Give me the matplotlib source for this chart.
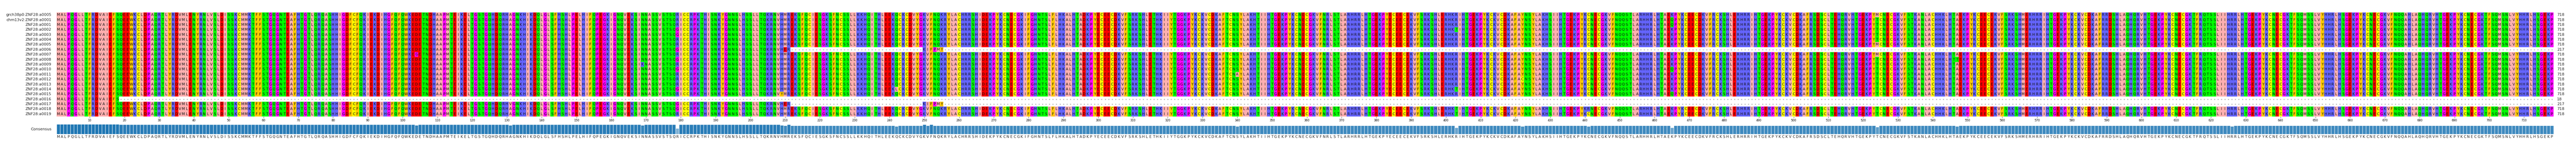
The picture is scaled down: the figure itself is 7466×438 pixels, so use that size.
import matplotlib
matplotlib.use("Agg")
import matplotlib.pyplot as plt
import numpy as np
from collections import Counter

names = ["grch38p0:ZNF28:a0005", "chm13v2:ZNF28:a0001"] + ["ZNF28:a%04d" % i for i in range(1, 20)]

consensus_segments = [
    "MALPQGLLTFRDVAIEFSQEEWKCLDPAQRTLYRDVMLENYRNLVSLDISSKCMMKTFFSTGQGNTEAFHTG",
    "TLQRQASHHIGDFCFQKIEKDIHGFQFQWKEDETNDHAAPMTEIKELTGSTGQHDQRHAGNKHIKDQLGLS",
    "FHSHLPELHIFQPEGKIGNQVEKSINNASSVSTSQRICCRPKTHISNKYGNNSLHSSLLTQKRNVHMREKSF",
    "QCIESGKSFNCSSLLKKHQITHLEEKQCKCDVYGKVFNQKRYLACHRRSHIDEKPYKCNECGKIFGHNTSL",
    "FLHKALHTADKPYECEECDKVFSRKSHLETHKIIYTGGKPYKCKVCDKAFTCNSYLAKHTIIHTGEKPYKCN",
    "ECGKVFNRLSTLARHRRLHTGEKPYECEECEKVFSRKSHLERHKRIHTGEKPYKCKVCDKAFAYNSYLAKH",
    "SIIHTGEKPYKCNECGKVFNQQSTLARHHRLHTAEKPYKCEECDKVFRCKSHLERHRRIHTGEKPYKCKVCD",
    "KAFRSDSCLTEHQRVHTGEKPYTCNECGKVFSTKANLACHHKLHTAEKPYKCEECEKVFSRKSHMERHRRI",
    "HTGEKPYKCKVCDKAFRRDSHLAQHQRVHTGEKPYKCNECGKTFRQTSSLIIHRRLHTGEKPYKCNECGKTF",
    "SQMSSLVYHHRLHSGEKPYKCNECGKVFNQQAHLAQHQRVHTGEKPYKCNECGKTFSQMSNLVYHHRLHSGEKP",
]

# (row, column 1-based, residue)
mutations = [
    (8, 104, "G"), (18, 131, "V"), (10, 169, "K"),
    (3, 179, "G"), (4, 179, "G"), (7, 179, "G"), (9, 179, "G"), (11, 179, "G"),
    (15, 179, "G"), (18, 179, "G"), (19, 179, "G"),
    (16, 209, "Y"), (7, 210, "E"), (18, 210, "E"),
    (15, 242, "L"), (12, 340, "A"),
    (3, 403, "T"), (15, 403, "T"), (19, 403, "T"), (20, 403, "T"), (13, 422, "C"),
    (19, 441, "R"), (1, 465, "Q"), (2, 465, "Q"), (11, 465, "Q"), (16, 465, "Q"),
    (0, 524, "M"), (6, 524, "M"), (8, 524, "M"), (9, 547, "T"), (14, 626, "H"),
]

# rows: (row, kept ranges [start, end] 1-based)
short_rows = {17: [(1, 18)], 7: [(1, 211), (250, 255)], 18: [(1, 211), (250, 255)]}
insert_seq = {7: (250, "KIFPMY"), 18: (250, "KIFPMY")}

zappo = {}
for aa in "ILVAM": zappo[aa] = "#ffafaf"
for aa in "FWY": zappo[aa] = "#ffc800"
for aa in "KRH": zappo[aa] = "#6464ff"
for aa in "DE": zappo[aa] = "#ff0000"
for aa in "STNQ": zappo[aa] = "#00ff00"
for aa in "PG": zappo[aa] = "#ff00ff"
zappo["C"] = "#ffff00"
zappo["-"] = "#ffffff"

cons = "".join(consensus_segments)
L = len(cons)
nrow = len(names)
seqs = [list(cons) for _ in range(nrow)]
for r, c, a in mutations:
    seqs[r][c - 1] = a
for r, ranges in short_rows.items():
    keep = np.zeros(L, bool)
    for s, e in ranges:
        keep[s - 1:e] = True
    for i in range(L):
        if not keep[i]:
            seqs[r][i] = "-"
for r, (s, txt) in insert_seq.items():
    for k, a in enumerate(txt):
        seqs[r][s - 1 + k] = a

W, H = 7466, 438
fig = plt.figure(figsize=(W / 100, H / 100), dpi=100)
x0, x1 = 164 / W, 7401 / W
ax = fig.add_axes([x0, 1 - 338 / H, x1 - x0, (338 - 36) / H])
img = np.array([[matplotlib.colors.to_rgb(zappo.get(a, "#ffffff")) for a in row] for row in seqs])
ax.imshow(img, aspect="auto", interpolation="nearest", extent=(0.5, L + 0.5, nrow - 0.5, -0.5))
ax.set_xlim(0.5, L + 0.5)
ax.set_ylim(nrow - 0.5, -0.5)
for r, row in enumerate(seqs):
    for i, a in enumerate(row):
        ax.text(i + 1, r, a, ha="center", va="center", fontsize=7.5, color="#111111")
    ax.text(-0.03 * 1 - 1.0, r, names[r], ha="right", va="center", fontsize=8, color="#222222",
            transform=ax.transData)
    n = sum(1 for a in row if a != "-")
    ax.text(L + 1.5, r, str(n), ha="left", va="center", fontsize=8, color="#222222")
for s in ax.spines.values():
    s.set_visible(False)
ax.set_yticks([])
ax.set_xticks(np.arange(10, L + 1, 10))
ax.tick_params(axis="x", length=3, width=0.6, labelsize=6, pad=2, color="#333333")

# consensus
cax = fig.add_axes([x0, 1 - 389 / H, x1 - x0, (389 - 360) / H])
fracs, cletters = [], []
for i in range(L):
    col = [seqs[r][i] for r in range(nrow)]
    cnt = Counter(a for a in col if a != "-")
    a, n = cnt.most_common(1)[0]
    cletters.append(a)
    fracs.append(n / nrow)
base = np.array(matplotlib.colors.to_rgb("#1f77b4"))
colors = [tuple(1 - f * (1 - base)) for f in fracs]
cax.bar(np.arange(1, L + 1), fracs, width=1.0, color=colors, edgecolor="white", linewidth=0.8)
cax.set_xlim(0.5, L + 0.5)
cax.set_ylim(0, 1)
cax.axis("off")
for i, a in enumerate(cletters):
    cax.text(i + 1, -0.12, a, ha="center", va="top", fontsize=7.5, color="#222222")
cax.text(-1.0, 0.5, "Consensus", ha="right", va="center", fontsize=8, color="#222222")

fig.savefig("out.png", dpi=100)
